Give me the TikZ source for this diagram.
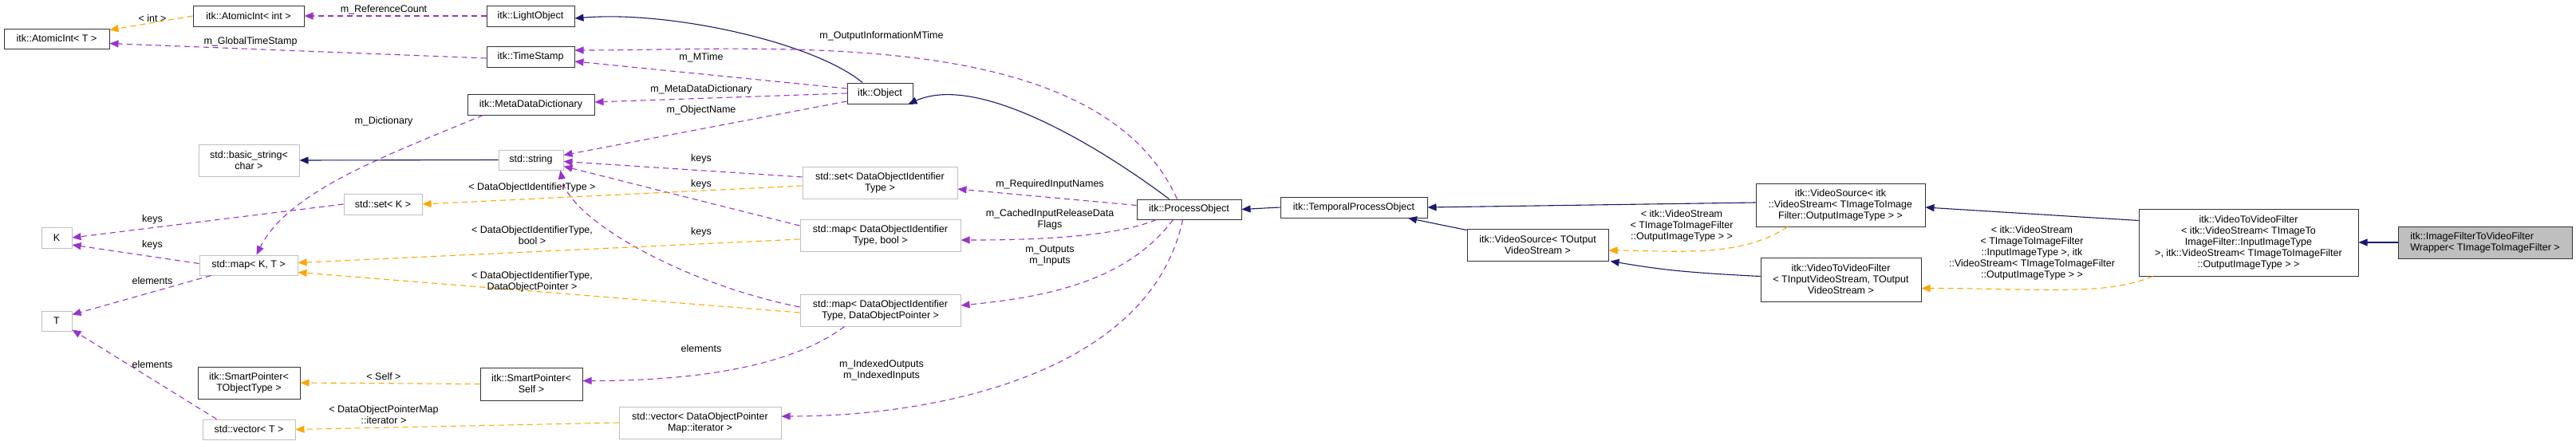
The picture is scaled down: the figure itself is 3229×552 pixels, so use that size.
\documentclass[tikz,border=0pt]{standalone}
\usepackage{fontspec}
\setmainfont{Liberation Sans}
\usetikzlibrary{arrows.meta,calc}
\definecolor{navy}{HTML}{191970}
\definecolor{purp}{HTML}{9A32CD}
\definecolor{orng}{HTML}{FFA500}
\tikzset{
  base/.style={inner sep=0pt,align=center,font=\fontsize{12.5}{14}\selectfont},
  itkb/.style={base,draw=black!80,line width=1pt},
  stdb/.style={base,draw=black!25,line width=1pt},
  lab/.style={inner sep=0pt,align=center,font=\fontsize{12.5}{14}\selectfont},
  tip/.style={-{Triangle[length=11pt,width=9pt]}},
  inh/.style={tip,draw=navy,line width=1.1pt},
  mem/.style={tip,draw=purp,line width=1.1pt,dash pattern=on 7pt off 5pt},
  tpl/.style={tip,draw=orng,line width=1.1pt,dash pattern=on 7pt off 5pt},
}
\begin{document}
\begin{tikzpicture}[x=1pt,y=-1pt]
\useasboundingbox (0,0) rectangle (3229,552);
% nodes
\node[itkb,minimum width=132,minimum height=25] (atomT) at (71,48.5) {itk::AtomicInt< T >};
\node[itkb,minimum width=139,minimum height=26] (atomInt) at (311.5,20) {itk::AtomicInt< int >};
\node[itkb,minimum width=110,minimum height=26] (light) at (665,20) {itk::LightObject};
\node[itkb,minimum width=110,minimum height=26] (ts) at (665,71) {itk::TimeStamp};
\node[itkb,minimum width=159,minimum height=26] (mdd) at (665.5,131) {itk::MetaDataDictionary};
\node[stdb,minimum width=126,minimum height=40] (bstr) at (312,201) {std::basic\_string<\\char >};
\node[stdb,minimum width=81,minimum height=25] (str) at (665.5,200.5) {std::string};
\node[stdb,minimum width=98,minimum height=26] (setK) at (480,256) {std::set< K >};
\node[stdb,minimum width=38,minimum height=26] (K) at (71,298) {K};
\node[stdb,minimum width=123,minimum height=25] (mapKT) at (311.5,332.5) {std::map< K, T >};
\node[stdb,minimum width=38,minimum height=25] (T) at (71,402.5) {T};
\node[itkb,minimum width=128,minimum height=40] (spT) at (312,480) {itk::SmartPointer<\\TObjectType >};
\node[itkb,minimum width=128,minimum height=41] (spS) at (666,481.5) {itk::SmartPointer<\\Self >};
\node[stdb,minimum width=116,minimum height=25] (vecT) at (312,538.5) {std::vector< T >};
\node[itkb,minimum width=82,minimum height=26] (obj) at (1103,117) {itk::Object};
\node[stdb,minimum width=194,minimum height=40] (setD) at (1103,229) {std::set< DataObjectIdentifier\\Type >};
\node[stdb,minimum width=201,minimum height=40] (mapB) at (1103.5,295) {std::map< DataObjectIdentifier\\Type, bool >};
\node[stdb,minimum width=201,minimum height=40] (mapP) at (1103.5,389) {std::map< DataObjectIdentifier\\Type, DataObjectPointer >};
\node[stdb,minimum width=203,minimum height=40] (vecD) at (877.5,530) {std::vector< DataObjectPointer\\Map::iterator >};
\node[itkb,minimum width=131,minimum height=25] (po) at (1490.5,262.5) {itk::ProcessObject};
\node[itkb,minimum width=184,minimum height=26] (tpo) at (1697,260) {itk::TemporalProcessObject};
\node[itkb,minimum width=177,minimum height=40] (vsT) at (1927.5,307) {itk::VideoSource< TOutput\\VideoStream >};
\node[itkb,minimum width=212,minimum height=54] (vsI) at (2307,257) {itk::VideoSource< itk\\::VideoStream< TImageToImage\\Filter::OutputImageType > >};
\node[itkb,minimum width=201,minimum height=55] (vvT) at (2307.5,350.5) {itk::VideoToVideoFilter\\< TInputVideoStream, TOutput\\VideoStream >};
\node[itkb,minimum width=275,minimum height=84] (vvI) at (2818.5,304) {itk::VideoToVideoFilter\\< itk::VideoStream< TImageTo\\ImageFilter::InputImageType\\ >, itk::VideoStream< TImageToImageFilter\\::OutputImageType > >};
\node[itkb,fill=black!25,minimum width=218,minimum height=40,align=left] (wr) at (3115,304) {itk::ImageFilterToVideoFilter\\Wrapper< TImageToImageFilter >};
% edges
\draw[tpl] (atomInt.west) -- ($(atomT.north east)+(0,2)$);
\draw[mem] (light.west) -- (atomInt.east);
\draw[mem] ($(ts.west)+(0,2)$) -- ($(atomT.east)+(0,6)$);
\draw[inh] ([xshift=-22pt]obj.north) .. controls +(-60,-50) and +(120,-10) .. ($(light.east)+(0,3)$);
\draw[mem] ($(obj.west)+(0,-6)$) -- ($(ts.east)+(0,6)$);
\draw[mem] ([xshift=-15pt]po.north) .. controls +(-100,-220) and +(250,0) .. ($(ts.east)+(0,-8)$);
\draw[mem] (obj.west) -- ($(mdd.east)+(0,-3)$);
\draw[mem] ($(obj.west)+(0,10)$) -- ($(str.east)+(0,-6)$);
\draw[mem] ($(mdd.south west)+(20,0)$) .. controls +(-120,50) and +(40,-80) .. ($(mapKT.north)+(10,0)$);
\draw[inh] (str.west) -- (bstr.east);
\draw[mem] ($(setD.west)+(0,-7)$) -- ($(str.east)+(0,2)$);
\draw[mem] ($(mapB.west)+(0,-12)$) -- ($(str.east)+(0,8)$);
\draw[mem] ($(mapP.west)+(0,-4)$) .. controls +(-150,-30) and +(10,60) .. ($(str.south east)+(-4,0)$);
\draw[tpl] ($(setD.west)+(0,4)$) -- (setK.east);
\draw[mem] (setK.west) -- (K.east);
\draw[mem] ($(mapKT.west)+(0,-2)$) -- ($(K.east)+(0,9)$);
\draw[mem] ($(mapKT.south west)+(15,0)$) -- ($(T.north east)+(0,5)$);
\draw[mem] ($(vecT.north west)+(18,0)$) -- ($(T.south east)+(0,-2)$);
\draw[tpl] ($(mapB.west)+(0,5)$) -- ($(mapKT.east)+(0,-3)$);
\draw[tpl] ($(mapP.west)+(0,3)$) -- ($(mapKT.east)+(0,9)$);
\draw[mem] ($(mapP.south)+(-45,0)$) .. controls +(-80,60) and +(100,0) .. ($(spS.east)+(0,-4)$);
\draw[tpl] (spS.west) -- (spT.east);
\draw[tpl] (vecD.west) -- (vecT.east);
\draw[mem] ($(po.west)+(0,-5)$) -- ($(setD.east)+(0,8)$);
\draw[mem] ($(po.south west)+(25,0)$) .. controls +(-60,25) and +(60,0) .. ($(mapB.east)+(0,6)$);
\draw[mem] ($(po.south)+(-20,0)$) .. controls +(-60,80) and +(100,-10) .. ($(mapP.east)+(0,-6)$);
\draw[mem] ($(po.south)+(-8,0)$) .. controls +(-40,190) and +(200,0) .. ($(vecD.east)+(0,-8)$);
\draw[inh] ([xshift=-25pt]po.north) .. controls +(-80,-60) and +(90,-40) .. ($(obj.south east)+(-6,0)$);
\draw[inh] (tpo.west) -- (po.east);
\draw[inh] ($(vsI.west)+(0,-3)$) -- (tpo.east);
\draw[inh] ($(vsT.north west)+(0,2)$) -- ($(tpo.south)+(68,0)$);
\draw[tpl] ($(vsI.south west)+(40,0)$) .. controls +(-60,40) and +(80,0) .. ($(vsT.east)+(0,7)$);
\draw[inh] ($(vvT.west)+(0,-4)$) .. controls +(-100,-5) and +(60,10) .. ($(vsT.south east)+(2,0)$);
\draw[inh] ($(vvI.north west)+(0,15)$) -- ($(vsI.east)+(0,3)$);
\draw[tpl] ($(vvI.south west)+(18,0)$) .. controls +(-60,25) and +(150,0) .. ($(vvT.east)+(0,11)$);
\draw[inh] (wr.west) -- (vvI.east);
% labels
\node[lab] (l1) at (191,23) {< int >};
\node[lab] (l2) at (481,12) {m\_ReferenceCount};
\node[lab] (l3) at (314,52) {m\_GlobalTimeStamp};
\node[lab] (l4) at (481,152) {m\_Dictionary};
\node[lab] (l5) at (667,235) {< DataObjectIdentifierType >};
\node[lab] (l6) at (191,275) {keys};
\node[lab] (l7) at (191,307) {keys};
\node[lab] (l8) at (667,295) {< DataObjectIdentifierType,\\bool >};
\node[lab] (l9) at (191,352) {elements};
\node[lab] (l10) at (667,353) {< DataObjectIdentifierType,\\DataObjectPointer >};
\node[lab] (l11) at (191,457) {elements};
\node[lab] (l12) at (481,472) {< Self >};
\node[lab] (l13) at (481,520) {< DataObjectPointerMap\\::iterator >};
\node[lab] (l14) at (1105,45) {m\_OutputInformationMTime};
\node[lab] (l15) at (879,72) {m\_MTime};
\node[lab] (l16) at (879,112) {m\_MetaDataDictionary};
\node[lab] (l17) at (879,138) {m\_ObjectName};
\node[lab] (l18) at (879,199) {keys};
\node[lab] (l19) at (879,231) {keys};
\node[lab] (l20) at (879,291) {keys};
\node[lab] (l21) at (879,437) {elements};
\node[lab] (l22) at (1316,231) {m\_RequiredInputNames};
\node[lab] (l23) at (1316,275) {m\_CachedInputReleaseData\\Flags};
\node[lab] (l24) at (1316,320) {m\_Outputs\\m\_Inputs};
\node[lab] (l25) at (1105,464) {m\_IndexedOutputs\\m\_IndexedInputs};
\node[lab] (l26) at (2108,283) {< itk::VideoStream\\< TImageToImageFilter\\::OutputImageType > >};
\node[lab] (l27) at (2547,317) {< itk::VideoStream\\< TImageToImageFilter\\::InputImageType >, itk\\::VideoStream< TImageToImageFilter\\::OutputImageType > >};
\end{tikzpicture}
\end{document}
